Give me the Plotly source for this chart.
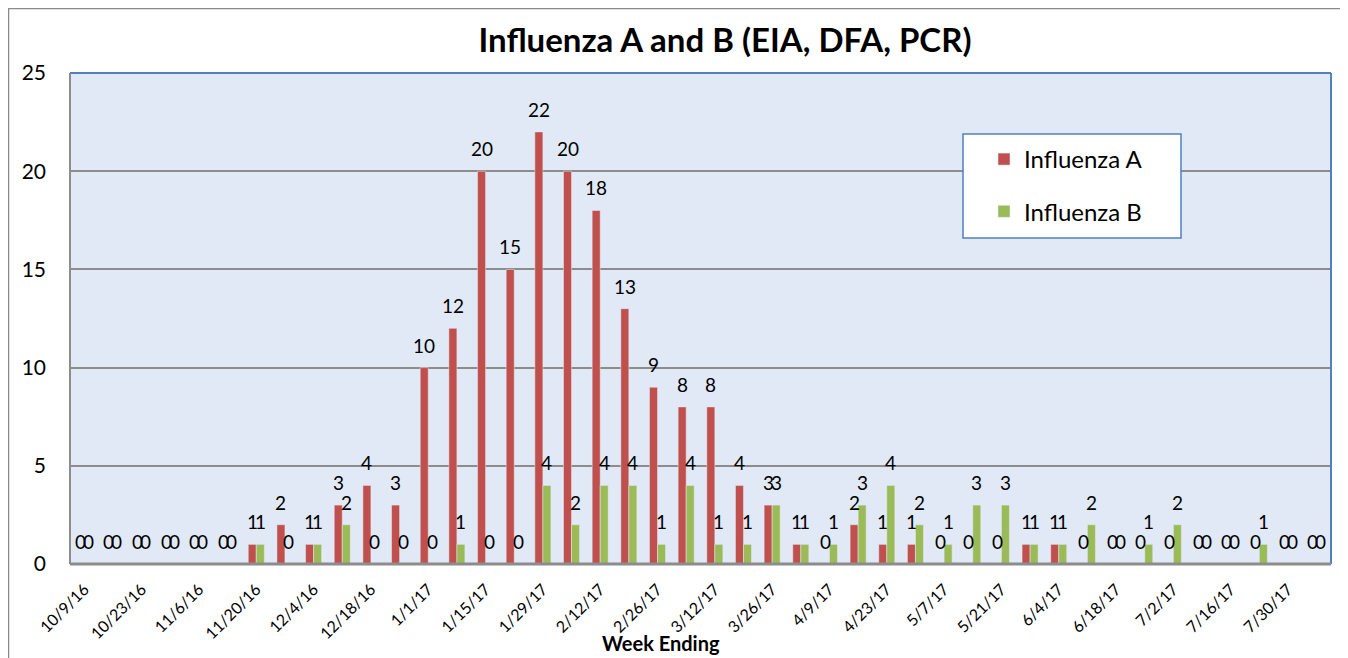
import plotly.graph_objects as go

weeks = ["10/9/16", "10/16/16", "10/23/16", "10/30/16", "11/6/16", "11/13/16",
         "11/20/16", "11/27/16", "12/4/16", "12/11/16", "12/18/16", "12/25/16",
         "1/1/17", "1/8/17", "1/15/17", "1/22/17", "1/29/17", "2/5/17", "2/12/17",
         "2/19/17", "2/26/17", "3/5/17", "3/12/17", "3/19/17", "3/26/17", "4/2/17",
         "4/9/17", "4/16/17", "4/23/17", "4/30/17", "5/7/17", "5/14/17", "5/21/17",
         "5/28/17", "6/4/17", "6/11/17", "6/18/17", "6/25/17", "7/2/17", "7/9/17",
         "7/16/17", "7/23/17", "7/30/17", "8/6/17"]
flu_a = [0, 0, 0, 0, 0, 0, 1, 2, 1, 3, 4, 3, 10, 12, 20, 15, 22, 20, 18, 13, 9, 8, 8, 4,
         3, 1, 0, 2, 1, 1, 0, 0, 0, 1, 1, 0, 0, 0, 0, 0, 0, 0, 0, 0]
flu_b = [0, 0, 0, 0, 0, 0, 1, 0, 1, 2, 0, 0, 0, 1, 0, 0, 4, 2, 4, 4, 1, 4, 1, 1,
         3, 1, 1, 3, 4, 2, 1, 3, 3, 1, 1, 2, 0, 1, 2, 0, 0, 1, 0, 0]
tick_labels = weeks[::2]
y_ticks = [0, 5, 10, 15, 20, 25]

FONT = "Lato"
RED = "#C0504D"
GREEN = "#9BBB59"
BLUE = "#4F81BD"

# page offset (body margin) compensation: figure starts at (8, 8) in the window
OFF = 8
W, H = 1348 - OFF, 658 - OFF
PL, PT, PR, PB = 70, 73, 1331, 564  # plot area in window pixels
PW, PH = PR - PL, PB - PT


def px_x(x):
    return (x - PL) / PW


def px_y(y):
    return 1 - (y - PT) / PH


fig = go.Figure()
fig.add_trace(go.Bar(x=weeks, y=flu_a, name="Influenza A", marker_color=RED,
                     legendgroup="a"))
fig.add_trace(go.Bar(x=weeks, y=flu_b, name="Influenza B", marker_color=GREEN,
                     legendgroup="b"))

annotations = []
for series, shift in ((flu_a, -4), (flu_b, 4)):
    for w, v in zip(weeks, series):
        annotations.append(dict(x=w, y=v, xref="x", yref="y", text=str(v),
                                showarrow=False, xshift=shift, yshift=9,
                                yanchor="bottom", xanchor="center",
                                font=dict(family=FONT, size=19, color="black")))

annotations.append(dict(x=px_x(661), y=px_y(643), xref="paper",
                        yref="paper", text="<b>Week Ending</b>", showarrow=False,
                        xanchor="center", yanchor="middle",
                        font=dict(family=FONT, size=20, color="black")))

shapes = [
    # legend box
    dict(type="rect", xref="paper", yref="paper",
         x0=px_x(963), x1=px_x(1181), y0=px_y(238), y1=px_y(134),
         fillcolor="white", line=dict(color=BLUE, width=1.5), layer="above"),
    # plot borders
    dict(type="line", xref="paper", yref="paper", x0=0, x1=1, y0=1, y1=1,
         line=dict(color=BLUE, width=2), layer="above"),
    dict(type="line", xref="paper", yref="paper", x0=1, x1=1, y0=0, y1=1,
         line=dict(color=BLUE, width=2), layer="above"),
    dict(type="line", xref="paper", yref="paper", x0=0, x1=0, y0=0, y1=1,
         line=dict(color="#8C8C8C", width=2), layer="above"),
    dict(type="line", xref="paper", yref="paper", x0=0, x1=1, y0=0, y1=0,
         line=dict(color="#8C8C8C", width=3), layer="above"),
    # outer chart border
    dict(type="rect", xref="paper", yref="paper",
         x0=px_x(8.5), x1=px_x(1346.5), y0=px_y(664), y1=px_y(8.5),
         line=dict(color="#8A8A8A", width=1.5), fillcolor="rgba(0,0,0,0)"),
]

fig.update_layout(
    width=W, height=H,
    margin=dict(l=PL - OFF, r=1348 - PR, t=PT - OFF, b=658 - PB),
    paper_bgcolor="white",
    plot_bgcolor="#E0E9F5",
    barmode="group",
    bargap=0.44,
    bargroupgap=0,
    font=dict(family=FONT, color="black"),
    title=dict(text="<b>Influenza A and B (EIA, DFA, PCR)</b>",
               x=(725 - OFF) / W, xref="container", xanchor="center",
               y=1 - (40 - OFF) / H, yref="container", yanchor="middle",
               font=dict(family=FONT, size=33, color="black")),
    legend=dict(x=px_x(984), y=px_y(137),
                xanchor="left", yanchor="top",
                bgcolor="rgba(0,0,0,0)", borderwidth=0,
                font=dict(family=FONT, size=24, color="black"),
                tracegroupgap=18, traceorder="grouped"),
    xaxis=dict(type="category", tickmode="array", tickvals=tick_labels,
               ticktext=tick_labels, tickangle=-45, showgrid=False,
               showline=False, ticks="", tickfont=dict(family=FONT, size=16),
               ticklabelstandoff=12),
    yaxis=dict(range=[0, 25], tickvals=y_ticks, showgrid=True,
               gridcolor="#8C8C8C", gridwidth=2, zeroline=False, showline=False,
               tickfont=dict(family=FONT, size=21), ticks="",
               ticklabelstandoff=23),
    annotations=annotations,
    shapes=shapes,
    showlegend=True,
)

fig.write_html("out.html")
